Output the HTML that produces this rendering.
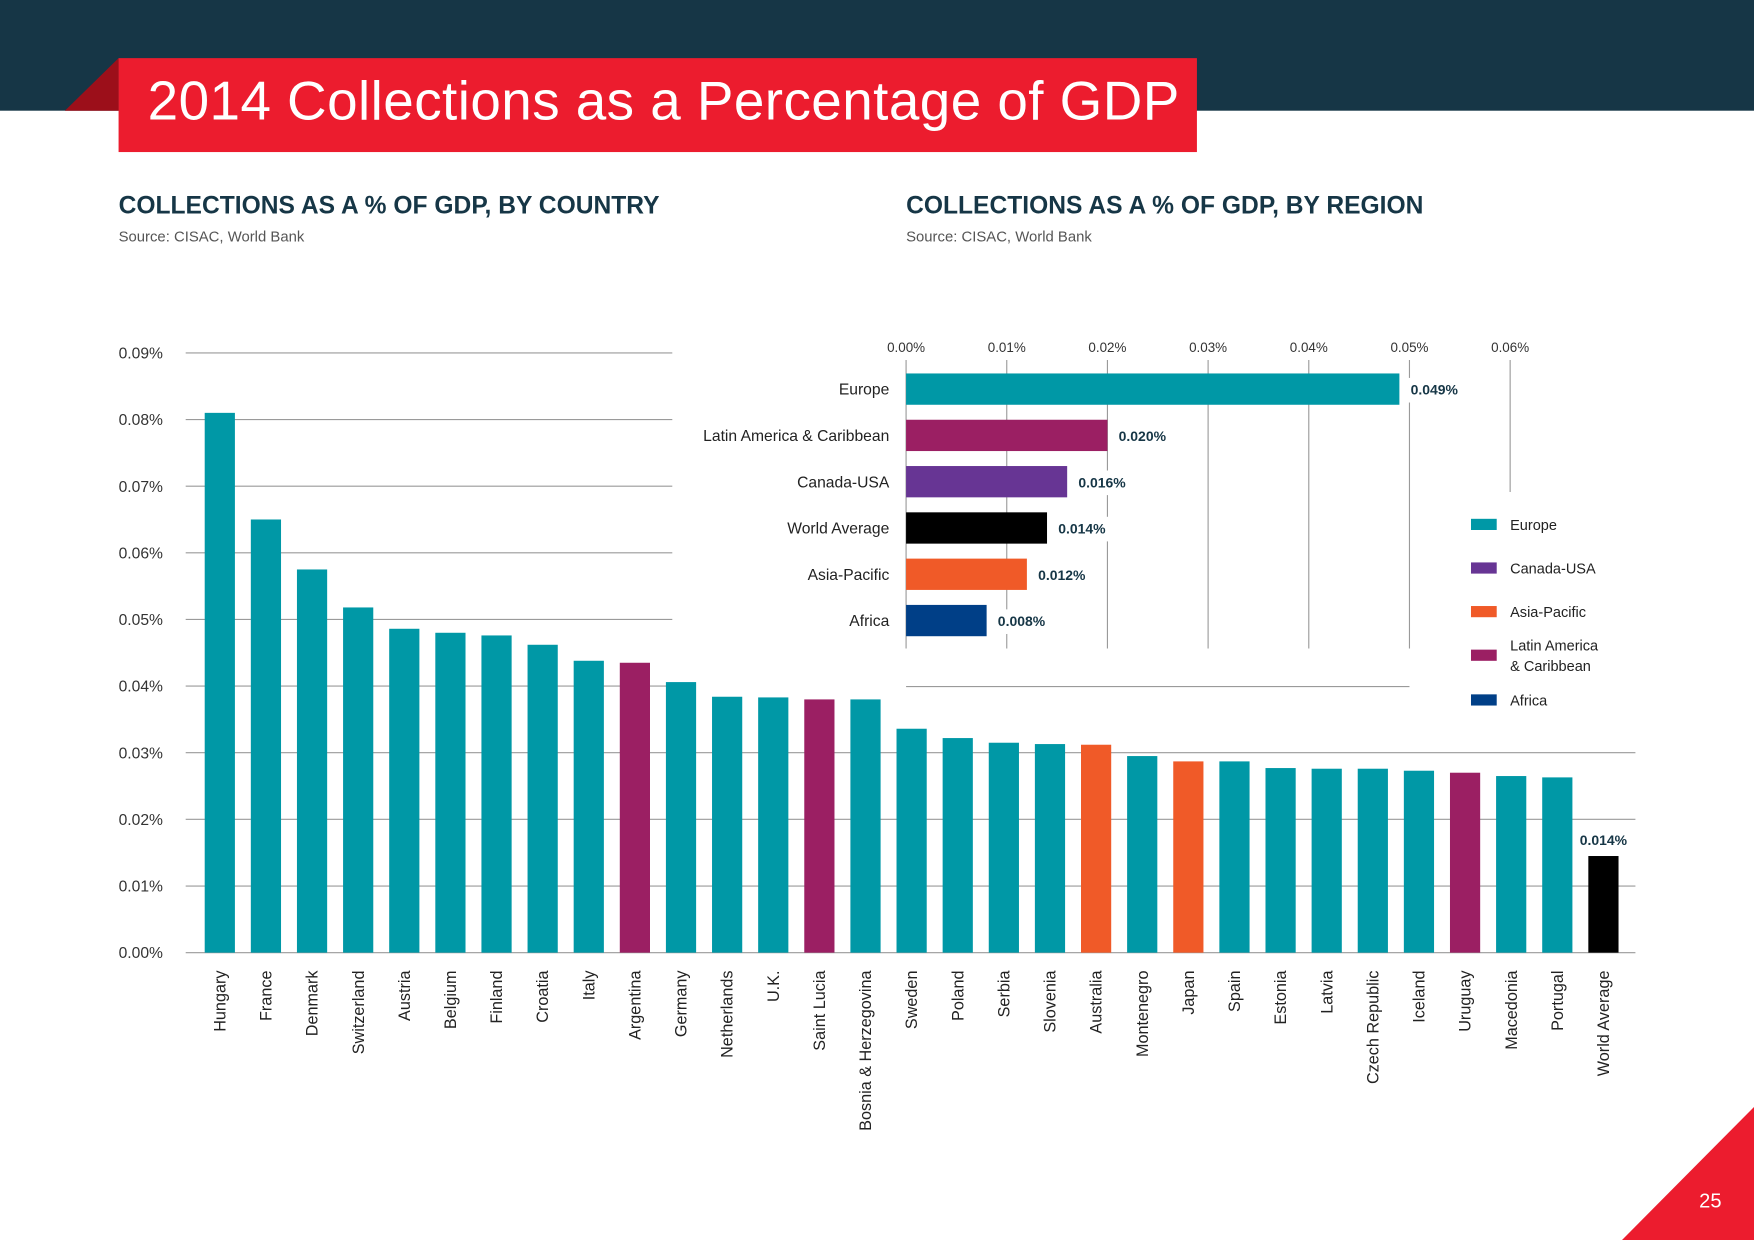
<!DOCTYPE html>
<html><head><meta charset="utf-8">
<style>
html,body{margin:0;padding:0;background:#fff;overflow:hidden}
#wrap{position:absolute;left:0;top:0;width:1568px;height:1109px;transform-origin:0 0;transform:scale(1.11862,1.11813);font-family:"Liberation Sans",sans-serif}
.abs{position:absolute}
</style></head>
<body>
<div id="wrap">
<div class="abs" style="left:0;top:0;width:1568px;height:99px;background:#163646"></div>
<svg class="abs" style="left:0;top:0" width="1568" height="1109">
<polygon points="58,99 106,52 106,99" fill="#9c0f1a"/>
<polygon points="1568,990 1568,1109 1450,1109" fill="#ec1c2e"/>
</svg>
<div class="abs" style="left:106px;top:52px;width:964px;height:84px;background:#ec1c2e"></div>
<div class="abs" style="left:132px;top:63px;color:#fff;font-size:49px;letter-spacing:0.4px;white-space:nowrap">2014 Collections as a Percentage of GDP</div>
<div class="abs" style="left:1519px;top:1064px;color:#fff;font-size:18px">25</div>
<div class="abs" style="left:106px;top:171px;color:#163646;font-size:22px;font-weight:bold;white-space:nowrap">COLLECTIONS AS A % OF GDP, BY COUNTRY</div>
<div class="abs" style="left:106px;top:204px;color:#555;font-size:13.3px">Source: CISAC, World Bank</div>
<div class="abs" style="left:810px;top:171px;color:#163646;font-size:22px;font-weight:bold;white-space:nowrap">COLLECTIONS AS A % OF GDP, BY REGION</div>
<div class="abs" style="left:810px;top:204px;color:#555;font-size:13.3px">Source: CISAC, World Bank</div>
<svg id="chart" class="abs" style="left:0;top:0" width="1568" height="1109"></svg>
</div>
<script>
const countries=["Hungary","France","Denmark","Switzerland","Austria","Belgium","Finland","Croatia","Italy","Argentina","Germany","Netherlands","U.K.","Saint Lucia","Bosnia & Herzegovina","Sweden","Poland","Serbia","Slovenia","Australia","Montenegro","Japan","Spain","Estonia","Latvia","Czech Republic","Iceland","Uruguay","Macedonia","Portugal","World Average"];
const countryValues=[0.081,0.065,0.0575,0.0518,0.0486,0.048,0.0476,0.0462,0.0438,0.0435,0.0406,0.0384,0.0383,0.038,0.038,0.0336,0.0322,0.0315,0.0313,0.0312,0.0295,0.0287,0.0287,0.0277,0.0276,0.0276,0.0273,0.027,0.0265,0.0263,0.0145];
const countryRegions=["eu","eu","eu","eu","eu","eu","eu","eu","eu","la","eu","eu","eu","la","eu","eu","eu","eu","eu","ap","eu","ap","eu","eu","eu","eu","eu","la","eu","eu","wa"];
const worldAverageLabel="0.014%";
const yTicks=[0,0.01,0.02,0.03,0.04,0.05,0.06,0.07,0.08,0.09];
const yTickLabels=["0.00%","0.01%","0.02%","0.03%","0.04%","0.05%","0.06%","0.07%","0.08%","0.09%"];
const regions=["Europe","Latin America & Caribbean","Canada-USA","World Average","Asia-Pacific","Africa"];
const regionValues=[0.049,0.020,0.016,0.014,0.012,0.008];
const regionValueLabels=["0.049%","0.020%","0.016%","0.014%","0.012%","0.008%"];
const regionKeys=["eu","la","cu","wa","ap","af"];
const xTicks=[0,0.01,0.02,0.03,0.04,0.05,0.06];
const xTickLabels=["0.00%","0.01%","0.02%","0.03%","0.04%","0.05%","0.06%"];
const legendLabels=[["Europe"],["Canada-USA"],["Asia-Pacific"],["Latin America","& Caribbean"],["Africa"]];
const legendKeys=["eu","cu","ap","la","af"];
const colors={eu:"#0098a6",la:"#9b1f63",ap:"#f05a28",wa:"#000000",cu:"#673594",af:"#003f87"};

const svg=document.getElementById('chart');
const NS="http://www.w3.org/2000/svg";
function mk(tag,attrs,parent){const e=document.createElementNS(NS,tag);for(const k in attrs)e.setAttribute(k,attrs[k]);(parent||svg).appendChild(e);return e;}
const y=v=>852-v/0.01*59.6;
const bx=i=>183+i*41.23;
const BW=27;
yTicks.forEach((t,i)=>{
  const ln=mk('line',{x1:166,x2:(t<=0.03?1462:601),y1:y(t),y2:y(t),stroke:"#9a9a9a","stroke-width":1});
  
  
  const tx=mk('text',{x:106,y:y(t)+5,"font-size":14,fill:"#333"});
  tx.textContent=yTickLabels[i];
  
  
});
countries.forEach((c,i)=>{
  const r=mk('rect',{x:bx(i),y:y(countryValues[i]),width:BW,height:852-y(countryValues[i]),fill:colors[countryRegions[i]]});
  
  
  const cx=bx(i)+BW/2+5;
  const t=mk('text',{x:0,y:0,"font-size":14.5,fill:"#222","text-anchor":"end",transform:`translate(${cx},868) rotate(-90)`});
  t.textContent=c;
  
  
});
const wi=countries.length-1;
const wl=mk('text',{x:bx(wi)+BW/2,y:y(countryValues[wi])-10,"font-size":12.5,"font-weight":"bold",fill:"#163646","text-anchor":"middle"});
wl.textContent=worldAverageLabel;


const xs=v=>810+v/0.01*90;
const ry=i=>334+i*41.4;
const BH=28;
const rb=mk('rect',{x:805,y:322,width:460,height:292,fill:"#fff"});


const bl=mk('line',{x1:810,x2:1260,y1:614,y2:614,stroke:"#9a9a9a","stroke-width":1});


xTicks.forEach((t,i)=>{
  const g=mk('line',{x1:xs(t),x2:xs(t),y1:322,y2:(t>=0.06?440:580),stroke:"#9a9a9a","stroke-width":1});
  
  
  const tx=mk('text',{x:xs(t),y:315,"font-size":12,fill:"#333","text-anchor":"middle"});
  tx.textContent=xTickLabels[i];
  
  
});
regions.forEach((r,i)=>{
  const b=mk('rect',{x:xs(0),y:ry(i),width:xs(regionValues[i])-xs(0),height:BH,fill:colors[regionKeys[i]]});
  
  
  const bg=mk('rect',{x:xs(regionValues[i])+4,y:ry(i)+4,width:62,height:22,fill:"#fff"});
  
  
  const v=mk('text',{x:xs(regionValues[i])+10,y:ry(i)+19,"font-size":12.5,"font-weight":"bold",fill:"#163646"});
  v.textContent=regionValueLabels[i];
  
  
  const l=mk('text',{x:795,y:ry(i)+19,"font-size":14,fill:"#222","text-anchor":"end"});
  l.textContent=r;
  
  
});
const legY=[469,508,547,586,626];
legendKeys.forEach((k,i)=>{
  const s=mk('rect',{x:1315,y:legY[i]-5,width:23,height:10,fill:colors[k]});
  
  
  const lines=legendLabels[i];
  lines.forEach((ln,j)=>{
    const t=mk('text',{x:1350,y:legY[i]+5+(j-(lines.length-1)/2)*18,"font-size":13,fill:"#222"});
    t.textContent=ln;
    
    
  });
});
</script>
</body></html>
